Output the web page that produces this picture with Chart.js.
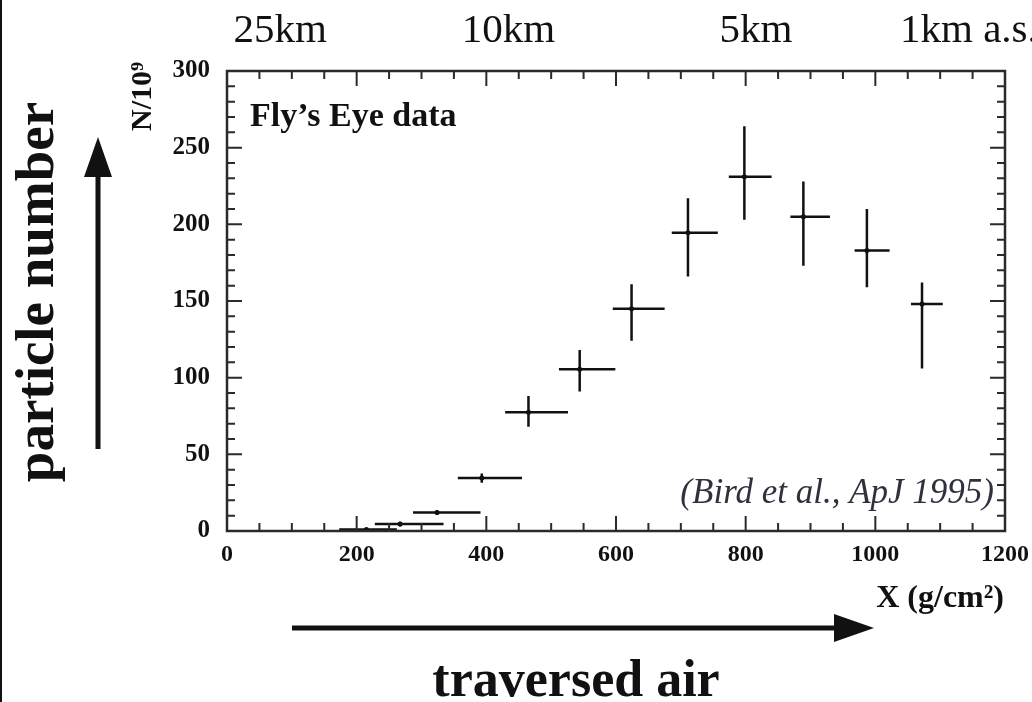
<!DOCTYPE html>
<html>
<head>
<meta charset="utf-8">
<script src="https://cdn.jsdelivr.net/npm/chart.js@4"></script>
<style>
  body { margin: 0; background: #fff; }
  canvas { display: block; }
</style>
</head>
<body>
<canvas id="myChart" width="1032" height="702"></canvas>
<script>
"use strict";

// Fly's Eye shower profile
let xCenter = [215, 267, 324, 393, 465, 544, 624, 711, 798, 889, 987, 1072];
let yValue  = [1, 4.5, 12, 34.5, 77.5, 105.5, 145, 194.5, 231, 205, 183, 148];
let xLow    = [173, 228, 287, 356, 429, 512, 595, 686, 774, 869, 968, 1055];
let xHigh   = [262, 334, 391, 455, 526, 599, 675, 757, 840, 930, 1022, 1104];
let yLow    = [0.3, 3, 10.5, 31.5, 68, 91, 124, 166, 203, 173, 159, 106];
let yHigh   = [1.7, 6, 13.5, 37.5, 88, 118, 161, 217, 264, 228, 210, 162];

// altitude labels along the top, placed at depth values
let altitudeLabels = ['25km', '10km', '5km', '1km a.s.l.'];
let altitudeAt = [82, 434, 816, 1161];

let serif = "'Liberation Serif', 'Times New Roman', serif";

function arrow(ctx, x1, y1, x2, y2, head, halfW) {
    let ang = Math.atan2(y2 - y1, x2 - x1);
    let bx = x2 - head * Math.cos(ang), by = y2 - head * Math.sin(ang);
    ctx.beginPath();
    ctx.moveTo(x1, y1);
    ctx.lineTo(bx, by);
    ctx.stroke();
    ctx.beginPath();
    ctx.moveTo(x2, y2);
    ctx.lineTo(bx + halfW * Math.sin(ang), by - halfW * Math.cos(ang));
    ctx.lineTo(bx - halfW * Math.sin(ang), by + halfW * Math.cos(ang));
    ctx.closePath();
    ctx.fill();
}

const decorations = {
    id: 'decorations',
    afterDatasetsDraw(chart) {
        const ctx = chart.ctx;
        const a = chart.chartArea;
        const x = chart.scales.x, y = chart.scales.y;
        ctx.save();

        // error bars
        ctx.strokeStyle = '#111';
        ctx.lineWidth = 2.5;
        for (let i = 0; i < xCenter.length; i++) {
            let py = y.getPixelForValue(yValue[i]);
            let px = x.getPixelForValue(xCenter[i]);
            ctx.beginPath();
            ctx.moveTo(x.getPixelForValue(xLow[i]), py);
            ctx.lineTo(x.getPixelForValue(xHigh[i]), py);
            ctx.moveTo(px, y.getPixelForValue(yLow[i]));
            ctx.lineTo(px, y.getPixelForValue(yHigh[i]));
            ctx.stroke();
        }

        // frame with inward ticks on all four sides
        ctx.strokeStyle = '#2a2a2a';
        ctx.lineWidth = 2.5;
        ctx.strokeRect(a.left, a.top, a.right - a.left, a.bottom - a.top);
        ctx.lineWidth = 2;
        ctx.beginPath();
        for (let v = 0; v <= 1200; v += 50) {
            let len = v % 200 === 0 ? 15 : 8;
            let px = x.getPixelForValue(v);
            ctx.moveTo(px, a.bottom); ctx.lineTo(px, a.bottom - len);
            ctx.moveTo(px, a.top); ctx.lineTo(px, a.top + len);
        }
        for (let v = 0; v <= 300; v += 10) {
            let len = v % 50 === 0 ? 15 : 8;
            let py = y.getPixelForValue(v);
            ctx.moveTo(a.left, py); ctx.lineTo(a.left + len, py);
            ctx.moveTo(a.right, py); ctx.lineTo(a.right - len, py);
        }
        ctx.stroke();
        ctx.restore();
    },
    afterDraw(chart) {
        const ctx = chart.ctx;
        const a = chart.chartArea;
        const x = chart.scales.x;
        ctx.save();
        ctx.fillStyle = '#111';
        ctx.strokeStyle = '#111';

        // left edge line
        ctx.fillRect(0, 0, 2, 702);

        // altitudes on top
        ctx.font = '41px ' + serif;
        ctx.textAlign = 'center';
        ctx.textBaseline = 'alphabetic';
        for (let i = 0; i < altitudeLabels.length; i++) {
            ctx.fillText(altitudeLabels[i], x.getPixelForValue(altitudeAt[i]), 42);
        }

        // in-plot texts
        ctx.textAlign = 'left';
        ctx.font = 'bold 34px ' + serif;
        ctx.fillText('Fly\u2019s Eye data', 250, 126);
        ctx.textAlign = 'right';
        ctx.font = 'italic 35px ' + serif;
        ctx.fillStyle = '#30303f';
        ctx.fillText('(Bird et al., ApJ 1995)', a.right - 11, 503);

        // x axis title
        ctx.fillStyle = '#111';
        ctx.font = 'bold 32px ' + serif;
        ctx.fillText('X (g/cm\u00b2)', 1004, 607);

        // y axis title
        ctx.save();
        ctx.translate(151, 62);
        ctx.rotate(-Math.PI / 2);
        ctx.textAlign = 'right';
        ctx.font = 'bold 30px ' + serif;
        ctx.fillText('N/10\u2079', 0, 0);
        ctx.restore();

        // big rotated label + arrow
        ctx.save();
        ctx.translate(53, 292);
        ctx.rotate(-Math.PI / 2);
        ctx.textAlign = 'center';
        ctx.font = 'bold 55px ' + serif;
        ctx.fillText('particle number', 0, 0);
        ctx.restore();
        ctx.lineWidth = 5;
        arrow(ctx, 98, 449, 98, 137, 40, 14);

        // bottom arrow + label
        arrow(ctx, 292, 628, 874, 628, 40, 14);
        ctx.textAlign = 'center';
        ctx.font = 'bold 52px ' + serif;
        ctx.fillText('traversed air', 576, 696);
        ctx.restore();
    }
};

const ctx = document.getElementById('myChart').getContext('2d');
const myChart = new Chart(ctx, {
    type: 'scatter',
    data: {
        datasets: [{
            label: "Fly's Eye data",
            data: xCenter.map((v, i) => ({x: v, y: yValue[i]})),
            pointRadius: 2.5,
            pointBackgroundColor: '#111',
            pointBorderWidth: 0
        }]
    },
    options: {
        responsive: false,
        animation: false,
        layout: {padding: {left: 127, right: 27, top: 71, bottom: 121}},
        plugins: {legend: {display: false}, tooltip: {enabled: false}},
        scales: {
            x: {
                type: 'linear',
                min: 0,
                max: 1200,
                grid: {display: false, drawTicks: false},
                border: {display: false},
                ticks: {stepSize: 200, maxRotation: 0, padding: 9, color: '#111',
                        font: {family: serif, size: 24, weight: 'bold'},
                        callback: v => String(v)},
                afterFit: function(s) { s.height = 50; s.paddingLeft = 0; s.paddingRight = 0; }
            },
            y: {
                min: 0,
                max: 300,
                grid: {display: false, drawTicks: false},
                border: {display: false},
                ticks: {stepSize: 50, padding: 17, color: '#111',
                        font: {family: serif, size: 25, weight: 'bold'},
                        callback: v => String(v)},
                afterFit: function(s) { s.width = 100; s.paddingTop = 0; s.paddingBottom = 0; }
            }
        }
    },
    plugins: [decorations]
});
</script>
</body>
</html>
